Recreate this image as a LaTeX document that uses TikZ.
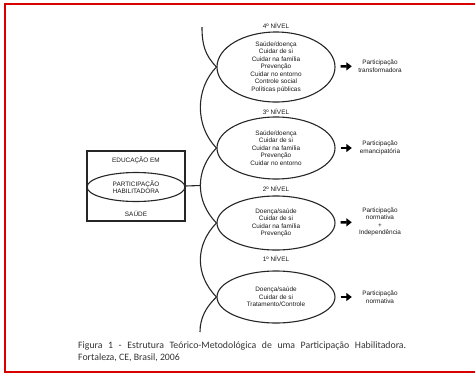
\documentclass[tikz,border=0pt]{standalone}
\usepackage{fontspec}
\setmainfont{Liberation Sans}
\newfontfamily\capfont{Carlito}
\usetikzlibrary{shapes.geometric,arrows.meta}

\tikzset{
  lvl/.style={draw=black!85, ellipse, line width=1.1pt, minimum width=118pt, minimum height=#1, inner sep=0pt},
  txt/.style={align=center, inner sep=0pt, text=black!90, font=\fontsize{6.4}{7.5}\selectfont},
  res/.style={txt, text width=50pt},
  fatarrow/.style={line width=2.6pt, -{Triangle[length=5.5pt,width=8pt]}, shorten <=5pt, shorten >=3pt},
  spine/.style={draw=black!85, line width=1.1pt}
}

\begin{document}
\begin{tikzpicture}[x=1pt, y=-1pt]
            \useasboundingbox (0,0) rectangle (475,376);
            \clip (0,0) rectangle (475,376);

            % Frame
            \draw[red!85!black, line width=1.2pt] (480,4) -- (5,4) -- (5,372) -- (480,372);

            % Levels
            \node[txt] (n4) at (276,26) {4º NÍVEL};
            \node[lvl=70pt] (e4) at (276,67) {};
            \node[txt] (t4) at (e4.center) {Saúde/doença\\Cuidar de si\\Cuidar na família\\Prevenção\\Cuidar no entorno\\Controle social\\Políticas públicas};

            \node[txt] (n3) at (276,112) {3º NÍVEL};
            \node[lvl=62pt] (e3) at (276,148) {};
            \node[txt] (t3) at (e3.center) {Saúde/doença\\Cuidar de si\\Cuidar na família\\Prevenção\\Cuidar no entorno};

            \node[txt] (n2) at (276,189) {2º NÍVEL};
            \node[lvl=54pt] (e2) at (276,223) {};
            \node[txt] (t2) at (e2.center) {Doença/saúde\\Cuidar de si\\Cuidar na família\\Prevenção};

            \node[txt] (n1) at (276,259) {1º NÍVEL};
            \node[lvl=52pt] (e1) at (276,297) {};
            \node[txt] (t1) at (e1.center) {Doença/saúde\\Cuidar de si\\Tratamento/Controle};

            % Results
            \node[res] (r4) at (380,66) {Participação\\transformadora};
            \node[res] (r3) at (380,148) {Participação\\emancipatória};
            \node[res] (r2) at (380,222) {Participação\\normativa\\+\\Independência};
            \node[res] (r1) at (380,297) {Participação\\normativa};

            \draw[fatarrow] (e4) -- (r4);
            \draw[fatarrow] (e3) -- (r3);
            \draw[fatarrow] (e2) -- (r2);
            \draw[fatarrow] (e1) -- (r1);

            % Spine of arcs
            \coordinate (top) at (202,27);
            \coordinate (bot) at (200,332);
            \draw[spine] (top) .. controls (202,45) and (205,55) .. (e4.west)
                .. controls (195,89) and (195,126) .. (e3.west)
                .. controls (195,170) and (195,201) .. coordinate[pos=0.5] (mid) (e2.west)
                .. controls (195,245) and (195,275) .. (e1.west)
                .. controls (206,307) and (200,318) .. (bot);

            % Box on the left
            \node[draw=black!85, line width=1.1pt, minimum width=98pt, minimum height=70pt, inner sep=0pt] (edu) at (136,186) {};
            \node[lvl=29pt, minimum width=98pt] (hab) at (136,187) {};
            \node[txt] (ht) at (hab.center) {PARTICIPAÇÃO\\HABILITADORA};
            \node[txt] (ed) at (136,160) {EDUCAÇÃO EM};
            \node[txt] (sa) at (136,214) {SAÚDE};
            \draw[spine] (edu.east) -- (mid);

            % Caption
            \node[anchor=north west, inner sep=0pt, text width=328pt, align=justify, text=black!80,
                  font=\capfont\fontsize{9.8}{12.5}\selectfont] (cap) at (78,341)
                  {Figura 1 - Estrutura Teórico-Metodológica de uma Participação Habilitadora.\linebreak
                   Fortaleza, CE, Brasil, 2006};
        \end{tikzpicture}
\end{document}
